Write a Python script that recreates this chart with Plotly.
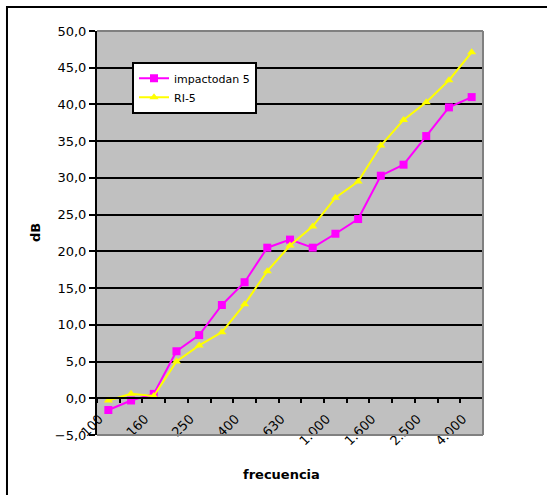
import plotly.graph_objects as go

freq_labels = ["100", "125", "160", "200", "250", "315", "400", "500", "630", "800",
               "1.000", "1.250", "1.600", "2.000", "2.500", "3.150", "4.000"]
impactodan = [-1.6, -0.3, 0.6, 6.4, 8.6, 12.7, 15.8, 20.5, 21.6, 20.5,
              22.4, 24.4, 30.3, 31.8, 35.7, 39.6, 41.0]
ri5 = [-0.3, 0.6, 0.3, 5.0, 7.2, 9.0, 12.8, 17.3, 20.8, 23.4,
       27.3, 29.5, 34.4, 37.9, 40.3, 43.3, 47.1]
y_min, y_max, y_step = -5, 50, 5

idx = list(range(len(freq_labels)))
FONT = "DejaVu Sans"

fig = go.Figure()
fig.add_trace(go.Scatter(x=idx, y=impactodan, name="impactodan 5", mode="lines+markers",
                         line=dict(color="#FF00FF", width=2),
                         marker=dict(symbol="square", size=8, color="#FF00FF")))
fig.add_trace(go.Scatter(x=idx, y=ri5, name="RI-5", mode="lines+markers",
                         line=dict(color="#FFFF00", width=2),
                         marker=dict(symbol="triangle-up", size=8, color="#FFFF00")))

zero_pos = (0 - y_min) / (y_max - y_min)

fig.update_layout(
    width=547, height=495,
    margin=dict(l=97, r=64, t=31, b=60),
    paper_bgcolor="white", plot_bgcolor="#C0C0C0",
    separators=",.",
    font=dict(family=FONT, size=13, color="black"),
    legend=dict(x=0.0907, y=0.924, xanchor="left", yanchor="top",
                bgcolor="white", bordercolor="black", borderwidth=2,
                font=dict(family=FONT, size=11, color="black"),
                itemwidth=30, tracegroupgap=0),
    xaxis=dict(range=[-0.5, len(freq_labels) - 0.5], anchor="free", position=zero_pos,
               showline=True, linecolor="black", linewidth=2, showgrid=False, zeroline=False,
               tickmode="array", tickvals=idx[::2], ticktext=freq_labels[::2],
               tickangle=-45, ticks="outside", ticklen=4, tickcolor="rgba(0,0,0,0)",
               ticklabelshift=-9, ticklabelstandoff=3,
               tickfont=dict(family=FONT, size=13, color="black"),
               minor=dict(tickmode="array", tickvals=[i - 0.5 for i in range(len(freq_labels) + 1)],
                          ticks="outside", ticklen=4, tickcolor="black", tickwidth=2, showgrid=False)),
    yaxis=dict(range=[y_min, y_max], dtick=y_step, tick0=0, tickformat=".1f",
               showline=True, linecolor="black", linewidth=2,
               showgrid=True, gridcolor="black", gridwidth=1.5, zeroline=False,
               ticks="outside", ticklen=6, tickcolor="black", tickwidth=1.5,
               tickfont=dict(family=FONT, size=13, color="black")),
    shapes=[
        dict(type="line", xref="paper", yref="paper", x0=0, x1=1, y0=1, y1=1,
             line=dict(color="#808080", width=2), layer="above"),
        dict(type="line", xref="paper", yref="paper", x0=1, x1=1, y0=0, y1=1,
             line=dict(color="#808080", width=2), layer="above"),
        dict(type="line", xref="paper", yref="paper", x0=0, x1=1, y0=0, y1=0,
             line=dict(color="#808080", width=2), layer="above"),
        dict(type="rect", xref="paper", yref="paper", x0=-0.2332, x1=1.3, y0=-0.3, y1=1.0594,
             line=dict(color="black", width=2), fillcolor="rgba(0,0,0,0)", layer="above"),
    ],
    annotations=[
        dict(text="<b>dB</b>", xref="paper", yref="paper", x=-0.1606, y=0.5,
             textangle=-90, showarrow=False, font=dict(family=FONT, size=13, color="black"),
             xanchor="center", yanchor="middle"),
        dict(text="<b>frecuencia</b>", xref="paper", yref="paper", x=0.479, y=-0.099,
             showarrow=False, font=dict(family=FONT, size=13, color="black"),
             xanchor="center", yanchor="middle"),
    ],
)

fig.write_html("out.html")
